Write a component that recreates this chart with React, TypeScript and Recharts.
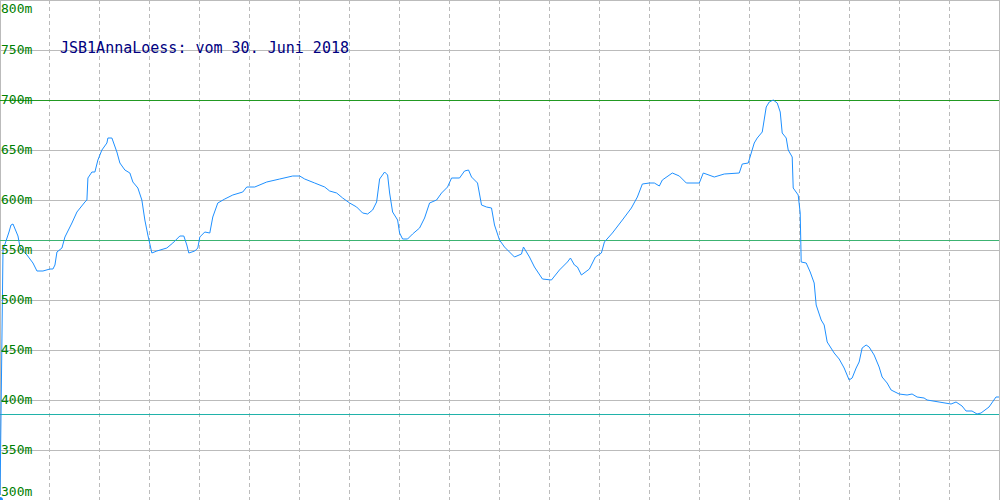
import { CartesianGrid, Line, LineChart, ReferenceLine, XAxis, YAxis } from "recharts";

// track position (0..1000) and elevation in metres
const distance = [
  0, 3, 9, 11, 13, 18, 20, 27, 33, 37, 43, 50, 53, 55, 57, 62, 65, 72, 77, 85,
  87, 88, 92, 95, 98, 102, 107, 108, 112, 117, 120, 125, 130, 133, 138, 142, 145, 148, 152, 157,
  167, 173, 180, 184, 187, 189, 195, 198, 200, 205, 210, 213, 218, 225, 233, 243, 247, 255, 267, 280,
  293, 300, 305, 315, 325, 330, 337, 343, 350, 357, 363, 368, 373, 377, 380, 385, 388, 390, 393, 398,
  400, 403, 408, 413, 420, 425, 430, 437, 442, 448, 452, 460, 465, 469, 472, 478, 482, 487, 492, 495,
  500, 505, 510, 515, 522, 524, 530, 535, 543, 552, 560, 568, 571, 575, 578, 582, 590, 596, 602, 605,
  613, 623, 632, 638, 643, 650, 655, 660, 663, 673, 680, 687, 700, 704, 715, 725, 740, 743, 749, 755,
  758, 763, 767, 770, 774, 778, 781, 783, 787, 789, 793, 794, 799, 801, 802, 807, 811, 815, 817, 822,
  825, 828, 835, 840, 845, 850, 853, 857, 860, 863, 867, 870, 875, 880, 883, 888, 892, 900, 908, 913,
  918, 925, 928, 940, 952, 957, 963, 967, 973, 978, 982, 990, 997, 1000,
];
const elevation = [
  300, 550, 568, 575, 576, 564, 553, 545, 537, 529, 529, 531, 531, 535, 548, 552, 563, 577, 588, 598,
  600, 622, 628, 628, 640, 650, 657, 662, 662, 648, 637, 630, 627, 618, 612, 600, 580, 565, 547, 549,
  552, 557, 564, 564, 555, 547, 549, 552, 563, 568, 567, 583, 597, 601, 605, 608, 613, 613, 618, 621,
  624, 624, 621, 617, 613, 609, 607, 602, 597, 593, 587, 586, 590, 598, 621, 628, 625, 607, 588, 580,
  567, 561, 561, 566, 572, 582, 597, 600, 607, 613, 622, 622, 629, 630, 623, 617, 595, 593, 592, 575,
  560, 553, 548, 543, 546, 553, 543, 533, 521, 520, 530, 538, 542, 535, 533, 525, 531, 543, 547, 558,
  567, 580, 592, 603, 616, 617, 617, 614, 620, 627, 624, 617, 617, 627, 623, 626, 627, 636, 637, 657,
  662, 668, 693, 698, 700, 697, 688, 667, 662, 650, 643, 612, 605, 587, 538, 537, 528, 517, 495, 480,
  475, 458, 447, 441, 432, 420, 422, 432, 438, 452, 455, 453, 445, 433, 423, 417, 410, 406, 405, 406,
  403, 402, 400, 398, 396, 398, 394, 389, 389, 386, 387, 393, 403, 403,
];
const yTicks = [300, 350, 400, 450, 500, 550, 600, 650, 700, 750, 800];
const xTicks = [0, 50, 100, 150, 200, 250, 300, 350, 400, 450, 500, 550, 600, 650, 700, 750, 800, 850, 900, 950, 1000];
const maxElevation = 700;
const avgElevation = 560;
const minElevation = 386;
const title = "JSB1AnnaLoess: vom 30. Juni 2018";

const points = distance.map((d, i) => ({ d, ele: elevation[i] }));

const MONO = "'DejaVu Sans Mono', 'Liberation Mono', monospace";

function MeterTick(props: any) {
  const { y, payload } = props;
  const ty = Math.min(Math.max(y + 3.5, 12.5), 496);
  return (
    <text x={1} y={ty} fill="#008000" fontFamily={MONO} fontSize={13} textAnchor="start">
      {payload.value}m
    </text>
  );
}

export default function App() {
  return (
    <div style={{ width: 1000, height: 500, background: "#fff" }}>
      <style>{`body{margin:0}`}</style>
      <LineChart width={1000} height={500} data={points} margin={{ top: 0, right: 1, bottom: 0, left: 0 }}>
        <CartesianGrid horizontal={false} stroke="#bbb" strokeDasharray="4 3" shapeRendering="crispEdges" />
        <CartesianGrid vertical={false} stroke="#bbb" shapeRendering="crispEdges" />
        <XAxis dataKey="d" type="number" domain={[0, 1000]} ticks={xTicks} hide />
        <YAxis
          type="number"
          domain={[300, 800]}
          ticks={yTicks}
          width={40}
          mirror
          axisLine={false}
          tickLine={false}
          tick={MeterTick}
          interval={0}
          allowDataOverflow
        />
        <ReferenceLine x={0} stroke="#bbb" shapeRendering="crispEdges" />
        <ReferenceLine x={1000} stroke="#bbb" shapeRendering="crispEdges" />
        <ReferenceLine y={maxElevation} stroke="#229922" shapeRendering="crispEdges" />
        <ReferenceLine y={avgElevation} stroke="#3cb371" shapeRendering="crispEdges" />
        <ReferenceLine y={minElevation} stroke="#20b2aa" shapeRendering="crispEdges" />
        <Line
          type="linear"
          dataKey="ele"
          stroke="#1e90ff"
          strokeWidth={1}
          dot={false}
          isAnimationActive={false}
        />
        <text x={60} y={53} fill="#000080" fontFamily={MONO} fontSize={15}>
          {title}
        </text>
      </LineChart>
    </div>
  );
}
